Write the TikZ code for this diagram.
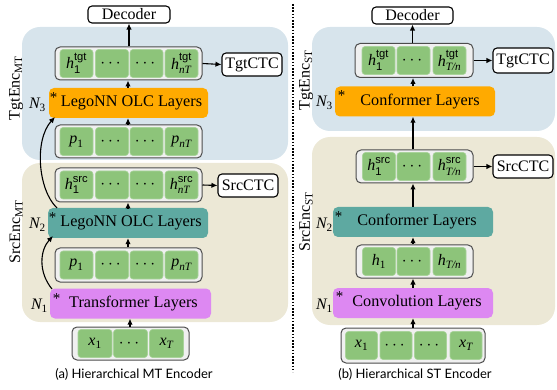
\documentclass[tikz,border=0pt]{standalone}
\usepackage{amsmath}
\usepackage{fontspec}
\setmainfont{Liberation Serif}
\setsansfont{Liberation Sans}
\newfontfamily\capfont{Lato}
\usetikzlibrary{arrows.meta}
\definecolor{regblue}{HTML}{D7E4EC}
\definecolor{regbeige}{HTML}{ECE8D6}
\definecolor{cellgreen}{HTML}{8DC47A}
\definecolor{layorange}{HTML}{FFAA00}
\definecolor{layteal}{HTML}{5EA9A1}
\definecolor{layviolet}{HTML}{DD88F2}
\newcommand{\hv}[2]{$\text{\rmfamily\itshape h}^{\text{\sffamily #1}}_{#2}$}
\newcommand{\iv}[2]{$\text{\rmfamily\itshape #1}_{\text{\rmfamily #2}}$}
\newcommand{\ivv}[2]{$\text{\rmfamily\itshape #1}_{\text{\rmfamily\itshape #2}}$}
\begin{document}
\begin{tikzpicture}[x=1pt,y=-1pt,
  region/.style={rounded corners=18pt},
  cell/.style={fill=cellgreen, draw=cellgreen!75!white, line width=0.6pt, rounded corners=3pt, minimum width=33pt, minimum height=28pt, inner sep=0pt, font=\rmfamily\fontsize{16}{16}\selectfont},
  rowbox/.style={draw=black!70, line width=1pt, fill=black!6, rounded corners=5pt, inner sep=0pt},
  layer/.style={rounded corners=5pt, minimum height=30pt, inner sep=0pt, font=\rmfamily\fontsize{16.2}{16.2}\selectfont},
  outbox/.style={draw, line width=1.1pt, fill=white, rounded corners=4pt, inner sep=0pt, font=\rmfamily\fontsize{16}{16}\selectfont},
  arr/.style={-{Latex[length=6pt,width=5.5pt]}, line width=1.1pt},
  nlab/.style={font=\rmfamily\fontsize{16}{16}\selectfont, inner sep=0pt, anchor=east},
  star/.style={font=\rmfamily\fontsize{15}{15}\selectfont, inner sep=0pt},
  vlab/.style={rotate=90, font=\rmfamily\fontsize{16}{16}\selectfont, inner sep=0pt},
  captxt/.style={font=\capfont\fontsize{13}{13}\selectfont, inner sep=0pt}
]
\useasboundingbox (0,0) rectangle (557,390);
% regions
\fill[regblue, region] (22,27) rectangle (288,160);
\fill[regbeige, region] (22,163) rectangle (288,322);
\fill[regblue, region] (312,27) rectangle (555,131);
\fill[regbeige, region] (312,137) rectangle (555,325);
% dotted separator
\coordinate (sepT) at (293,4);
\coordinate (sepB) at (293,372);
\draw[line width=1.3pt, dash pattern=on 1.6pt off 1.6pt] (sepT) -- (sepB);

% ===== Left panel =====
\node[outbox, minimum width=82pt, minimum height=17pt] (decA) at (129,14.5) {Decoder};
\node[rowbox, minimum width=147pt, minimum height=33pt] (tgtA) at (128.5,63.5) {};
\node[cell] (tA1) at (76.5,63.5) {\hv{tgt}{\text{\sffamily 1}}};
\node[cell] (tA2) at (112,63.5) {$\cdots$};
\node[cell] (tA3) at (146.5,63.5) {$\cdots$};
\node[cell] (tA4) at (181.5,63.5) {\hv{tgt}{\text{\rmfamily\itshape nT}}};
\node[outbox, minimum width=60pt, minimum height=23pt] (tctcA) at (252,64.5) {TgtCTC};
\node[layer, fill=layorange, minimum width=159pt] (olc2A) at (128.5,103) {\hspace*{6pt}LegoNN OLC Layers};
\node[star] (s3A) at (53.5,98) {*};
\node[nlab] (n3A) at (46,105) {\iv{N}{3}};
\node[rowbox, minimum width=147pt, minimum height=33pt] (p2A) at (128.5,141.5) {};
\node[cell] (pA1) at (76.5,141.5) {\iv{p}{1}};
\node[cell] (pA2) at (112,141.5) {$\cdots$};
\node[cell] (pA3) at (146.5,141.5) {$\cdots$};
\node[cell] (pA4) at (181.5,141.5) {\ivv{p}{nT}};
\node[rowbox, minimum width=147pt, minimum height=34pt] (srcA) at (128.5,185) {};
\node[cell] (sA1) at (76.5,185) {\hv{src}{\text{\sffamily 1}}};
\node[cell] (sA2) at (112,185) {$\cdots$};
\node[cell] (sA3) at (146.5,185) {$\cdots$};
\node[cell] (sA4) at (181.5,185) {\hv{src}{\text{\rmfamily\itshape nT}}};
\node[outbox, minimum width=60pt, minimum height=23pt] (sctcA) at (248,185.5) {SrcCTC};
\node[layer, fill=layteal, minimum width=160pt] (olc1A) at (128,223) {\hspace*{6pt}LegoNN OLC Layers};
\node[star] (s2A) at (52.5,218) {*};
\node[nlab] (n2A) at (46,225) {\iv{N}{2}};
\node[rowbox, minimum width=147pt, minimum height=34pt] (p1A) at (128.5,265) {};
\node[cell] (qA1) at (76.5,265) {\iv{p}{1}};
\node[cell] (qA2) at (112,265) {$\cdots$};
\node[cell] (qA3) at (146.5,265) {$\cdots$};
\node[cell] (qA4) at (181.5,265) {\ivv{p}{nT}};
\node[layer, fill=layviolet, minimum width=161pt] (trA) at (130.5,303.5) {\hspace*{6pt}Transformer Layers};
\node[star] (s1A) at (56.5,299) {*};
\node[nlab] (n1A) at (48,306) {\iv{N}{1}};
\node[rowbox, minimum width=117pt, minimum height=33pt] (xA) at (130.5,343.5) {};
\node[cell, minimum width=34pt] (xA1) at (95,343.5) {\iv{x}{1}};
\node[cell, minimum width=34pt] (xA2) at (130.5,343.5) {$\cdots$};
\node[cell, minimum width=34pt] (xA3) at (166.5,343.5) {\ivv{x}{T}};
\node[captxt] (capA) at (134,374) {(a) Hierarchical MT Encoder};
\node[vlab] (lTA) at (16,88) {TgtEnc\textsubscript{MT}};
\node[vlab] (lSA) at (16,232) {SrcEnc\textsubscript{MT}};
% arrows left
\draw[arr] (tgtA.north -| decA) -- (decA.south);
\draw[arr] (tgtA.east) -- (tctcA.west);
\draw[arr] (olc2A.north -| 128,0) -- (tgtA.south -| 128,0);
\draw[arr] (p2A.north -| 128,0) -- (olc2A.south -| 128,0);
\draw[arr] (srcA.east) -- (sctcA.west);
\draw[arr] (olc1A.north -| 128,0) -- (srcA.south -| 128,0);
\draw[arr] (p1A.north -| 128,0) -- (olc1A.south -| 128,0);
\draw[arr] (xA.north -| 130,0) -- (trA.south -| 130,0);
\coordinate (c1s) at (52,289);
\coordinate (c1e) at (53,236);
\draw[arr] (c1s) .. controls (38,272) and (40,250) .. (c1e);
\coordinate (c2s) at (57,208);
\coordinate (c2e) at (55,117);
\draw[arr] (c2s) .. controls (38,190) and (34,140) .. (c2e);

% ===== Right panel =====
\node[outbox, minimum width=81pt, minimum height=17pt] (decB) at (412.5,15.5) {Decoder};
\node[rowbox, minimum width=118pt, minimum height=34pt] (tgtB) at (414,60.5) {};
\node[cell] (tB1) at (378.5,60.5) {\hv{tgt}{\text{\sffamily 1}}};
\node[cell] (tB2) at (413.5,60.5) {$\cdots$};
\node[cell] (tB3) at (449.5,60.5) {\hv{tgt}{\text{\rmfamily\itshape T/n}}};
\node[outbox, minimum width=60pt, minimum height=25pt] (tctcB) at (523,60.5) {TgtCTC};
\node[layer, fill=layorange, minimum width=160pt] (confTB) at (415,101.5) {\hspace*{10pt}Conformer Layers};
\node[star] (s3B) at (341.5,96) {*};
\node[nlab] (n3B) at (333,103) {\iv{N}{3}};
\node[rowbox, minimum width=117pt, minimum height=33pt] (srcB) at (414.5,166.5) {};
\node[cell] (sB1) at (379,166.5) {\hv{src}{\text{\sffamily 1}}};
\node[cell] (sB2) at (413.5,166.5) {$\cdots$};
\node[cell] (sB3) at (449.5,166.5) {\hv{src}{\text{\rmfamily\itshape T/n}}};
\node[outbox, minimum width=60pt, minimum height=23pt] (sctcB) at (523,166.5) {SrcCTC};
\node[layer, fill=layteal, minimum width=160pt] (confSB) at (413,222) {\hspace*{8pt}Conformer Layers};
\node[star] (s2B) at (338.5,217) {*};
\node[nlab] (n2B) at (333,225) {\iv{N}{2}};
\node[rowbox, minimum width=117pt, minimum height=33pt] (hB) at (414.5,261.5) {};
\node[cell] (hB1) at (379,261.5) {\iv{h}{1}};
\node[cell] (hB2) at (413.5,261.5) {$\cdots$};
\node[cell] (hB3) at (449.5,261.5) {\ivv{h}{T/n}};
\node[layer, fill=layviolet, minimum width=160pt] (convB) at (413,303) {\hspace*{8pt}Convolution Layers};
\node[star] (s1B) at (339.5,297) {*};
\node[nlab] (n1B) at (333,306) {\iv{N}{1}};
\node[rowbox, minimum width=144pt, minimum height=35pt] (xB) at (413,345.5) {};
\node[cell, minimum width=32pt] (xB1) at (361.5,345.5) {\iv{x}{1}};
\node[cell, minimum width=32pt] (xB2) at (396,345.5) {$\cdots$};
\node[cell, minimum width=32pt] (xB3) at (430.5,345.5) {$\cdots$};
\node[cell, minimum width=32pt] (xB4) at (466,345.5) {\ivv{x}{T}};
\node[captxt] (capB) at (415,374) {(b) Hierarchical ST Encoder};
\node[vlab] (lTB) at (306,80) {TgtEnc\textsubscript{ST}};
\node[vlab] (lSB) at (306,222) {SrcEnc\textsubscript{ST}};
% arrows right
\draw[arr] (tgtB.north -| decB) -- (decB.south);
\draw[arr] (tgtB.east) -- (tctcB.west);
\draw[arr] (confTB.north -| 413,0) -- (tgtB.south -| 413,0);
\draw[arr] (srcB.north -| 413,0) -- (confTB.south -| 413,0);
\draw[arr] (srcB.east) -- (sctcB.west);
\draw[arr] (confSB.north -| 413,0) -- (srcB.south -| 413,0);
\draw[arr] (hB.north -| 413,0) -- (confSB.south -| 413,0);
\draw[arr] (convB.north -| 413,0) -- (hB.south -| 413,0);
\draw[arr] (xB.north -| 413,0) -- (convB.south -| 413,0);
\end{tikzpicture}
\end{document}
